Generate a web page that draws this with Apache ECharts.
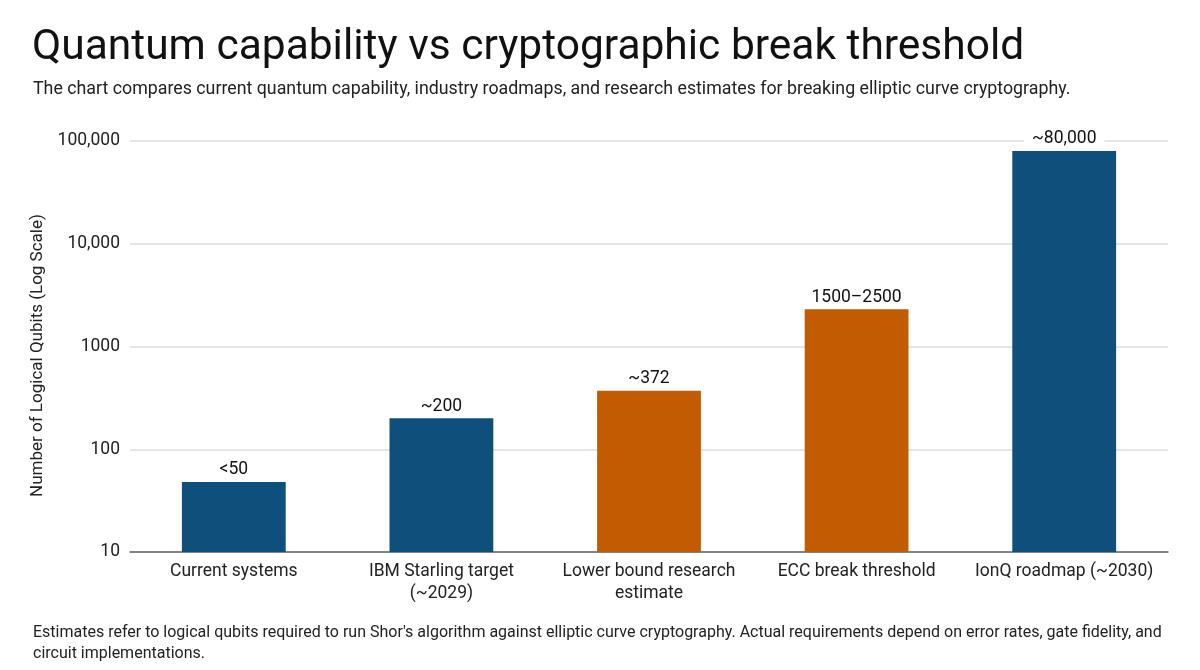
<!DOCTYPE html>
<html>
<head>
<meta charset="utf-8">
<script src="https://cdn.jsdelivr.net/npm/echarts@6/dist/echarts.min.js"></script>
<style>
  html, body { margin: 0; padding: 0; background: #fff; }
  #chart { width: 1200px; height: 670px; }
</style>
</head>
<body>
<div id="chart"></div>
<script>
// categories and values
var categories = ['Current systems', 'IBM Starling target\n(~2029)', 'Lower bound research\nestimate', 'ECC break threshold', 'IonQ roadmap (~2030)'];
var qubits = [48, 200, 372, 2300, 80000];
var valueLabels = ['<50', '~200', '~372', '1500\u20132500', '~80,000'];
var kinds = ['roadmap', 'roadmap', 'estimate', 'estimate', 'roadmap'];
var yTicks = [10, 100, 1000, 10000, 100000];

var kindColor = { roadmap: '#0e4f7c', estimate: '#c25c02' };
var font = 'Roboto, "Noto Sans", sans-serif';

var chart = echarts.init(document.getElementById('chart'));

var option = {
    backgroundColor: '#fff',
    animation: false,
    title: [{
        text: 'Quantum capability vs cryptographic break threshold',
        left: 32,
        top: 27,
        padding: 0,
        textStyle: { fontFamily: font, fontSize: 42.5, fontWeight: 'normal', color: '#111' }
    }, {
        text: 'The chart compares current quantum capability, industry roadmaps, and research estimates for breaking elliptic curve cryptography.',
        left: 33,
        top: 81,
        padding: 0,
        textStyle: { fontFamily: font, fontSize: 17.8, fontWeight: 'normal', color: '#222' }
    }],
    grid: {
        left: 130,
        right: 32,
        top: 141,
        bottom: 118
    },
    xAxis: {
        type: 'category',
        data: categories,
        axisTick: { show: false },
        axisLine: { lineStyle: { color: '#666', width: 1.5 } },
        axisLabel: {
            fontFamily: font,
            fontSize: 17.5,
            color: '#222',
            lineHeight: 22,
            margin: 9,
            interval: 0
        }
    },
    yAxis: {
        type: 'log',
        logBase: 10,
        min: yTicks[0],
        max: yTicks[yTicks.length - 1],
        name: 'Number of Logical Qubits (Log Scale)',
        nameLocation: 'middle',
        nameGap: 75,
        nameTextStyle: { fontFamily: font, fontSize: 17, color: '#222', padding: [0, 18, 0, 0] },
        axisLine: { show: false },
        axisTick: { show: false },
        splitLine: { lineStyle: { color: '#dcdcdc', width: 1.5 } },
        axisLabel: {
            fontFamily: font,
            fontSize: 17.5,
            color: '#222',
            margin: 10,
            formatter: function (v) {
                return v >= 10000 ? v.toLocaleString('en-US') : String(v);
            }
        }
    },
    series: [{
        type: 'bar',
        barWidth: '50%',
        data: qubits.map(function (v, i) {
            return { value: v, itemStyle: { color: kindColor[kinds[i]] } };
        }),
        label: {
            show: true,
            position: 'top',
            distance: 2,
            fontFamily: font,
            fontSize: 17.5,
            color: '#111',
            backgroundColor: '#fff',
            padding: [1, 8],
            formatter: function (p) {
                return valueLabels[p.dataIndex];
            }
        }
    }],
    graphic: [{
        type: 'text',
        left: 33,
        top: 622,
        style: {
            text: "Estimates refer to logical qubits required to run Shor's algorithm against elliptic curve cryptography. Actual requirements depend on error rates, gate fidelity, and\ncircuit implementations.",
            fontFamily: font,
            fontSize: 16,
            lineHeight: 21,
            fill: '#222'
        }
    }]
};

chart.setOption(option);
</script>
</body>
</html>
